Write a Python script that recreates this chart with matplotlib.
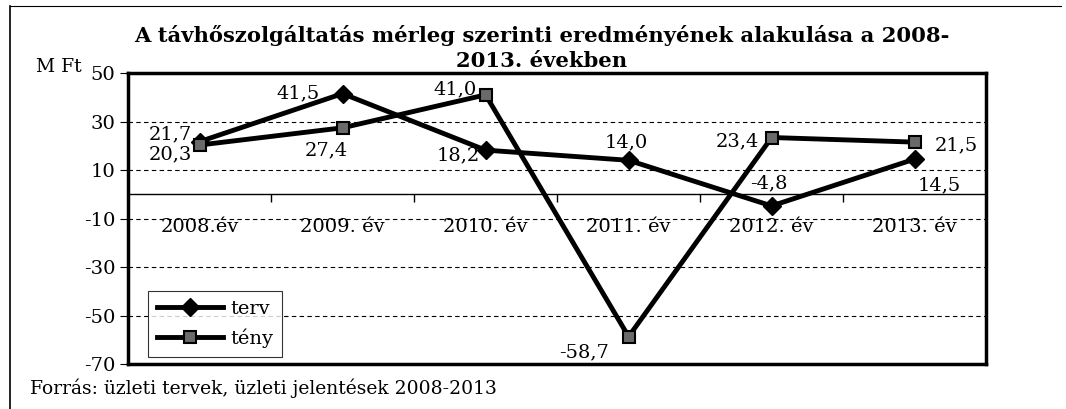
import matplotlib.pyplot as plt
from matplotlib.lines import Line2D

plt.rcParams['font.family'] = ['DejaVu Serif']

# data
years = ['2008.év', '2009. év', '2010. év', '2011. év', '2012. év', '2013. év']
terv = [21.7, 41.5, 18.2, 14.0, -4.8, 14.5]
teny = [20.3, 27.4, 41.0, -58.7, 23.4, 21.5]
yticks = [50, 30, 10, -10, -30, -50, -70]

# label offsets (points) for the value labels
terv_off = [(-21, 5), (-32, 0), (-20, -4), (-2, 13), (-2, 16.5), (18, -19)]
teny_off = [(-21, -7), (-11.5, -16), (-22, 4), (-32, -11), (-25, -3), (30, -2)]

def fmt(v):
    return ('%.1f' % v).replace('.', ',')

fig = plt.figure(figsize=(10.66, 4.09), dpi=100)
ax = fig.add_axes([0.1201, 0.110, 0.805, 0.7115])

x = list(range(len(years)))
ax.set_xlim(-0.5, len(years) - 0.5)
ax.set_ylim(-70, 50)

# grid + zero line
for y in yticks[1:-1]:
    ax.axhline(y, color='black', lw=0.8, ls=(0, (4, 3)), zorder=1)
ax.axhline(0, color='black', lw=1.0, zorder=1)
ax.vlines([i + 0.5 for i in x[:-1]], -3, 0, color='black', lw=1.0, zorder=1)

ax.plot(x, terv, color='black', lw=3.5, marker='D', ms=9.5, mfc='black',
        mec='black', zorder=3, label='terv')
ax.plot(x, teny, color='black', lw=3.5, marker='s', ms=8.5, mfc='#6a6a6a',
        mec='black', mew=1.5, zorder=4, label='tény')

for i in x:
    ax.annotate(fmt(terv[i]), (i, terv[i]), xytext=terv_off[i],
                textcoords='offset points', ha='center', va='center',
                fontsize=14, zorder=5)
    ax.annotate(fmt(teny[i]), (i, teny[i]), xytext=teny_off[i],
                textcoords='offset points', ha='center', va='center',
                fontsize=14, zorder=5)
    ax.text(i, -13.5, years[i], ha='center', va='center', fontsize=14)

ax.set_xticks([])
ax.set_yticks(yticks)
ax.set_yticklabels([str(t) for t in yticks], fontsize=14)
ax.tick_params(axis='y', length=6, width=0.8, direction='out', pad=3)
for s in ax.spines.values():
    s.set_linewidth(2.5)

leg = ax.legend(loc='lower left', bbox_to_anchor=(0.023, 0.024), fontsize=14,
                frameon=True, fancybox=False, edgecolor='black',
                handlelength=3.4, borderpad=0.45, labelspacing=0.55,
                handletextpad=0.4, borderaxespad=0)
leg.get_frame().set_linewidth(0.8)

fig.text(0.508, 0.883, 'A távhőszolgáltatás mérleg szerinti eredményének alakulása a 2008-\n2013. években',
         ha='center', va='center', fontsize=15.2, fontweight='bold',
         linespacing=1.3)
fig.text(0.034, 0.835, 'M Ft', fontsize=13.5, ha='left', va='center')
fig.text(0.028, 0.05, 'Forrás: üzleti tervek, üzleti jelentések 2008-2013',
         fontsize=13.5, ha='left', va='center')

# page border fragments
fig.add_artist(Line2D([0.009, 0.009], [0.0, 0.985], color='black', lw=1.2))
fig.add_artist(Line2D([0.009, 0.995], [0.985, 0.985], color='black', lw=0.8))

fig.savefig('out.png', dpi=100)
